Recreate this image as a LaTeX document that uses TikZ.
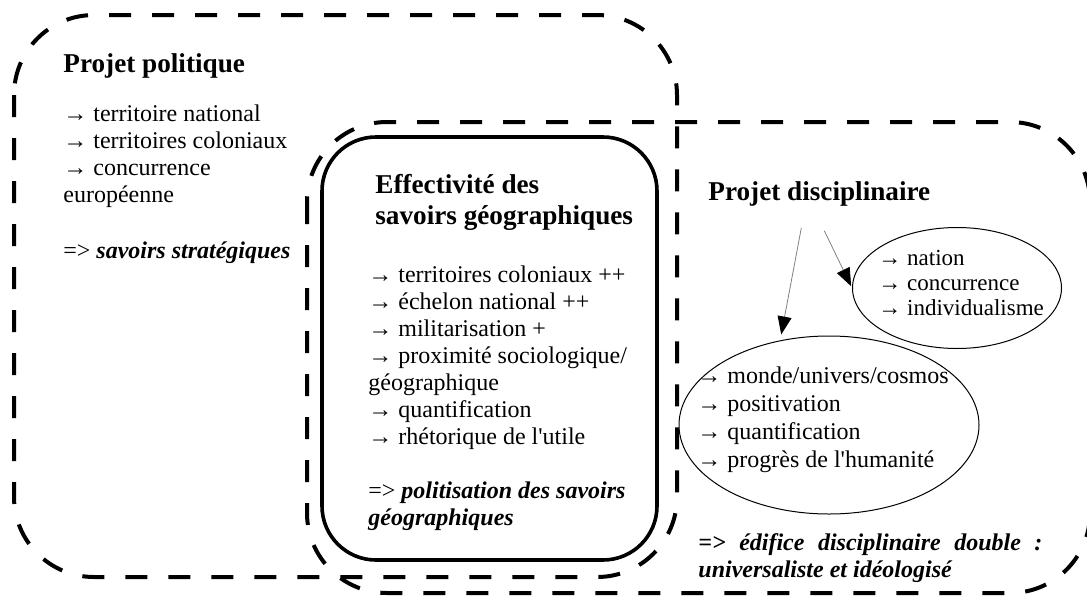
\documentclass[tikz,border=0pt]{standalone}
\usepackage{fontspec}
\setmainfont{Liberation Serif}
\usepackage{tikz}
\usetikzlibrary{arrows.meta,positioning,shapes.geometric}

\begin{document}
\begin{tikzpicture}[x=0.5pt, y=-0.5pt, >=Stealth,
  zone/.style={line width=2pt, dash pattern=on 11pt off 10.5pt, rounded corners=40pt},
  cadre/.style={line width=1.8pt, rounded corners=27pt},
  titre/.style={font=\fontsize{13.6}{15.5}\selectfont\bfseries, anchor=base west, inner sep=0pt, align=flush left},
  liste/.style={font=\fontsize{12}{13.5}\selectfont, anchor=base west, inner sep=0pt, align=flush left, text width=140pt},
  bulle/.style={ellipse, draw, line width=0.5pt, inner sep=0pt},
  fleche/.style={draw=black!50, line width=0.4pt, -{Triangle[length=9pt,width=7pt,black]}}]
  \useasboundingbox (0,0) rectangle (1087,595);
% --- zones ---
  \draw[zone] (14,15) rectangle (677,577);
  \draw[zone] (307,122) rectangle (1090,593);
  \draw[cadre] (322,137) rectangle (657,560);
% --- projet politique ---
  \node[titre] (pp) at (63,72) {Projet politique};
  \node[liste] (ppl) at (63,121) {→ territoire national\\→ territoires coloniaux\\→ concurrence\\européenne};
  \node[liste] (ppc) at (63,258) {=> \textbf{\textit{savoirs stratégiques}}};
% --- effectivite ---
  \node[titre, text width=150pt] (ef) at (375,193) {Effectivité des\\savoirs géographiques};
  \node[liste] (efl) at (368,282) {→ territoires coloniaux ++\\→ échelon national ++\\→ militarisation +\\→ proximité sociologique/\\géographique\\→ quantification\\→ rhétorique de l\textquotesingle utile};
  \node[liste] (efc) at (368,498) {=> \textbf{\textit{politisation des savoirs}}\\\textbf{\textit{géographiques}}};
% --- projet disciplinaire ---
  \node[titre] (pd) at (708,200) {Projet disciplinaire};
  \node[bulle, minimum width=104.5pt, minimum height=60.5pt] (nat) at (957,288) {};
  \node[bulle, minimum width=150pt, minimum height=89pt] (univ) at (829,425) {};
  \node[liste, font=\fontsize{11.5}{12.5}\selectfont, text width=100pt] (natl) at (878,265) {→ nation\\→ concurrence\\→ individualisme};
  \node[liste, font=\fontsize{12}{14}\selectfont] (univl) at (697,383) {→ monde/univers/cosmos\\→ positivation\\→ quantification\\→ progrès de l\textquotesingle humanité};
  \draw[fleche, shorten >=3pt] ([xshift=-9pt,yshift=-10.8pt]pd.south) -- (univ.120);
  \draw[fleche, shorten >=1pt] ([xshift=2.5pt,yshift=-12.3pt]pd.south) -- (nat.west);
  \node[liste, text width=172pt, align=justify, font=\fontsize{12}{13.5}\selectfont\bfseries\itshape] (edif) at (698,550) {=> édifice disciplinaire double~:\linebreak universaliste et idéologisé};
\end{tikzpicture}
\end{document}
